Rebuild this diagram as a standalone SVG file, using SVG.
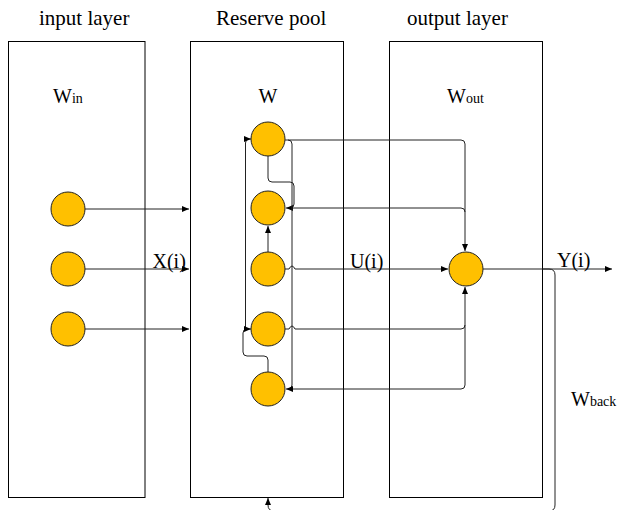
<svg xmlns="http://www.w3.org/2000/svg" width="619" height="510" viewBox="0 0 619 510">
<style>
.box{fill:none;stroke:#000;stroke-width:1}
.nd{fill:#FFC000;stroke:#222;stroke-width:1}
.ln{fill:none;stroke:#222;stroke-width:1}
.t{font-family:"Liberation Serif","Times New Roman",serif;fill:#000}
</style>
<defs>
<marker id="ah" markerWidth="8" markerHeight="8" refX="7" refY="4" orient="auto" markerUnits="userSpaceOnUse">
<path d="M0,1 L7,4 L0,7 Z" fill="#000"/>
</marker>
</defs>
<rect width="619" height="510" fill="#fff"/>
<g id="input-layer">
<rect class="box" x="8.5" y="41.5" width="136.5" height="456"/>
<text class="t" x="39" y="25" font-size="21">input layer</text>
<text class="t" x="53" y="103" font-size="20">W<tspan font-size="14">in</tspan></text>
</g>
<g id="reserve-pool">
<rect class="box" x="190.5" y="41.5" width="153" height="456"/>
<text class="t" x="216" y="25" font-size="21">Reserve pool</text>
<text class="t" x="268" y="103" font-size="20" text-anchor="middle">W</text>
</g>
<g id="output-layer">
<rect class="box" x="389.5" y="41.5" width="153" height="456"/>
<text class="t" x="407" y="25" font-size="21">output layer</text>
<text class="t" x="447" y="103" font-size="20">W<tspan font-size="14">out</tspan></text>
</g>
<g id="connectors">
<path class="ln" d="M85,209 H189" marker-end="url(#ah)"/>
<path class="ln" d="M85,269 H189" marker-end="url(#ah)"/>
<path class="ln" d="M85,329 H189" marker-end="url(#ah)"/>
<path class="ln" d="M245.5,329 V143 Q245.5,139 249,139 H251" marker-end="url(#ah)"/>
<path class="ln" d="M268,372 V360 Q268,356 264,356 H247 Q243,356 243,352 V333 Q243,329 247,329 H251" marker-end="url(#ah)"/>
<path class="ln" d="M268,252 V226" marker-end="url(#ah)"/>
<path class="ln" d="M268,156 V178 Q268,182 272,182 H290 Q294,182 294,186 V204 Q294,208 290,208"/>
<path class="ln" d="M285,140 H461 Q465,140 465,144 V251" marker-end="url(#ah)"/>
<path class="ln" d="M465,212 Q465,208 461,208 H286" marker-end="url(#ah)"/>
<path class="ln" d="M288,140 Q292,140 292,144 V385 Q292,389 288,389"/>
<path class="ln" d="M465,385 Q465,389 461,389 H286" marker-end="url(#ah)"/>
<path class="ln" d="M465,385 V287" marker-end="url(#ah)"/>
<path class="ln" d="M285,269 H289 Q292,263 295,269 H448" marker-end="url(#ah)"/>
<path class="ln" d="M285,329 H289 Q292,323 295,329 H461 Q465,329 465,325"/>
<path class="ln" d="M483,269 H612" marker-end="url(#ah)"/>
<path class="ln" d="M543,269 H549 Q555,269 555,275 V505 Q555,511 549,511 H274 Q268,511 268,505 V498" marker-end="url(#ah)"/>
</g>
<g id="labels">
<text class="t" x="152.5" y="268" font-size="20">X(i)</text>
<text class="t" x="350" y="268" font-size="20">U(i)</text>
<text class="t" x="557" y="267" font-size="20">Y(i)</text>
<text class="t" x="571" y="406" font-size="20">W<tspan font-size="14">back</tspan></text>
</g>
<g id="in1"><circle class="nd" cx="68" cy="209" r="17"/></g>
<g id="in2"><circle class="nd" cx="68" cy="269" r="17"/></g>
<g id="in3"><circle class="nd" cx="68" cy="329" r="17"/></g>
<g id="r1"><circle class="nd" cx="268" cy="139" r="17"/></g>
<g id="r2"><circle class="nd" cx="268" cy="208" r="17"/></g>
<g id="r3"><circle class="nd" cx="268" cy="269" r="17"/></g>
<g id="r4"><circle class="nd" cx="268" cy="329" r="17"/></g>
<g id="r5"><circle class="nd" cx="268" cy="389" r="17"/></g>
<g id="out1"><circle class="nd" cx="466" cy="269" r="17"/></g>
</svg>
